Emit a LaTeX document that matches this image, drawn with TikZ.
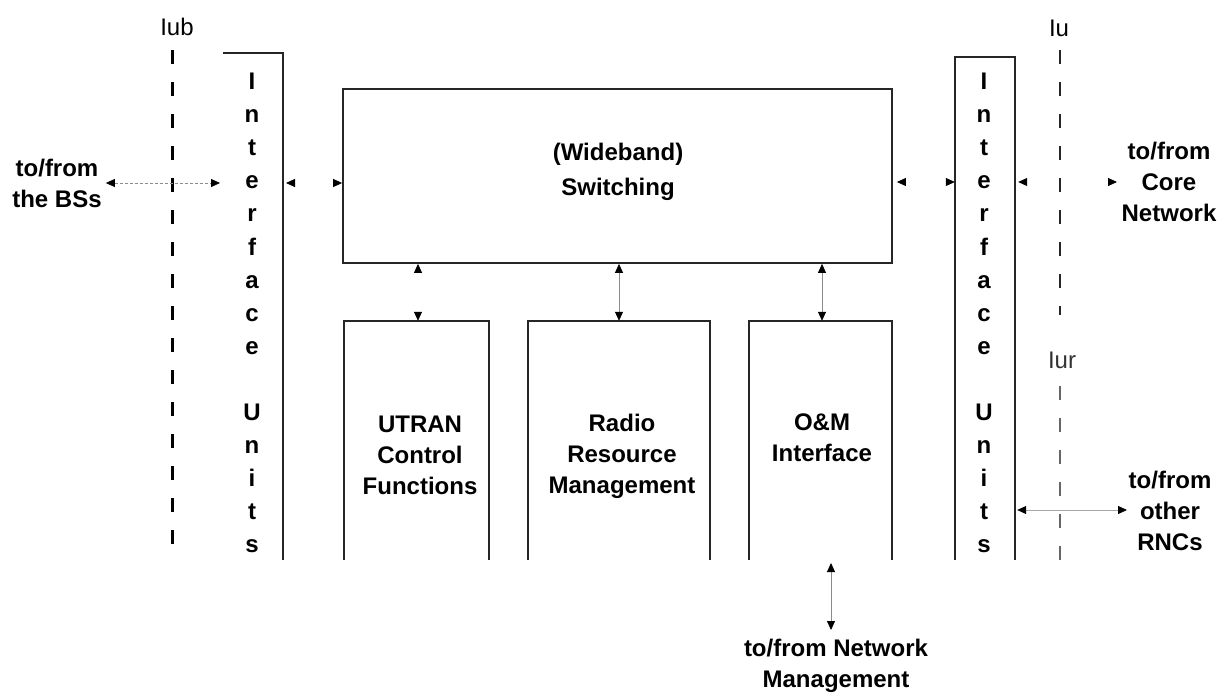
\documentclass[tikz,border=0pt]{standalone}
\usepackage{fontspec}
\setmainfont{Liberation Sans}
\usetikzlibrary{arrows.meta}
\begin{document}
\begin{tikzpicture}[x=1pt,y=-1pt,
  lbl/.style={font=\fontsize{24}{31}\selectfont\bfseries, align=center, inner sep=0pt},
  swlbl/.style={font=\fontsize{24}{35}\selectfont\bfseries, align=center, inner sep=0pt},
  iflbl/.style={font=\fontsize{24}{28}\selectfont, inner sep=0pt},
  letter/.style={font=\fontsize{24}{28}\selectfont\bfseries, anchor=base, inner sep=0pt},
  boxline/.style={line width=1.8pt, draw=black!85},
  ifline/.style={line width=3pt, dash pattern=on 14pt off 18pt},
  ghostbox/.style={draw=none, inner sep=0pt},
  dbl/.style={{Triangle[length=9pt,width=8pt,color=black,fill=black]}-{Triangle[length=9pt,width=8pt,color=black,fill=black]}, line width=0.8pt, draw=black!45},
  ghost/.style={dbl, draw=white},
  dotl/.style={dbl, draw=black!45, dash pattern=on 3pt off 2pt}
]
\useasboundingbox (0,0) rectangle (1224,695);

% switching
\node[draw, boxline, minimum width=549pt, minimum height=174pt, inner sep=0pt] (sw) at (617.5,176) {};
\node[swlbl] (swt) at (618,172) {(Wideband)\\Switching};

% right interface units
\node[ghostbox, minimum width=60pt, minimum height=503pt] (rif) at (985,308.5) {};

% right interface <-> core (arrowheads only, drawn before the dashed line)
\node[lbl] (core) at (1169,182) {to/from\\Core\\Network};
\coordinate (coretip) at (1117,182);
\draw[ghost] (rif.east |- 0,182) ++(3,0) -- (coretip);

% interface lines
\node[iflbl] (iub) at (177,27) {Iub};
\coordinate (iubtop) at (172,50);
\coordinate (iubbot) at (172,553);
\draw[ifline] (iubtop) -- (iubbot);

\node[iflbl] (iu) at (1059,28) {Iu};
\coordinate (iutop) at (1060,50);
\coordinate (iubot2) at (1060,315);
\draw[ifline, line width=2.6pt, draw=black!85] (iutop) -- (iubot2);

\node[iflbl, text=black!80] (iur) at (1062,360) {Iur};
\coordinate (iurtop) at (1060,386);
\coordinate (iurbot) at (1060,562);
\draw[ifline, line width=2.6pt, draw=black!60] (iurtop) -- (iurbot);

% left interface units (open shape)
\coordinate (lif1) at (223,53);
\coordinate (lif2) at (283,53);
\coordinate (lif3) at (283,560);
\draw[boxline] (lif1) -- (lif2) -- (lif3);

% right interface box outline
\draw[boxline] (rif.south west) -- (rif.north west) -- (rif.north east) -- (rif.south east);

% interface letters
\foreach \k/\c in {0/I,1/n,2/t,3/e,4/r,5/f,6/a,7/c,8/e,10/U,11/n,12/i,13/t,14/s}{
  \node[letter] (L\k) at (252,{90+33*\k}) {\c};
  \node[letter] (R\k) at (984,{90+33*\k}) {\c};
}

% lower boxes (open at bottom)
\node[ghostbox, minimum width=145pt, minimum height=239pt] (utran) at (416.5,440.5) {};
\node[ghostbox, minimum width=182pt, minimum height=239pt] (rrm) at (619,440.5) {};
\node[ghostbox, minimum width=143pt, minimum height=239pt] (om) at (820.5,440.5) {};
\foreach \b in {utran,rrm,om}{
  \draw[boxline] (\b.south west) -- (\b.north west) -- (\b.north east) -- (\b.south east);
}
\node[lbl] (utrant) at (420,455) {UTRAN\\Control\\Functions};
\node[lbl] (rrmt) at (622,456) {Radio\\Resource\\Management};
\node[lbl] (omt) at (822,438) {O\&M\\Interface};

% vertical arrows switching <-> lower boxes
\draw[ghost] (sw.south -| 418,0) -- (utran.north -| 418,0);
\draw[dbl] (sw.south -| 619,0) -- (rrm.north -| 619,0);
\draw[dbl] (sw.south -| 822,0) -- (om.north -| 822,0);

% network management
\coordinate (nmtop) at (831,563);
\coordinate (nmbot) at (831,630);
\node[lbl] (nm) at (836,666) {to/from Network\\Management};
\draw[dbl] (nmtop) -- (nmbot);

% BSs
\node[lbl] (bs) at (57,183) {to/from\\the BSs};
\coordinate (bsr) at (220,183);
\draw[dotl] (bs.east |- bsr) ++(4,0) coordinate (bsl) (bsl) -- (bsr);

% left interface <-> switching
\draw[ghost] (lif3 |- 0,183) ++(3,0) -- (sw.west |- 0,183);

% switching <-> right interface
\draw[ghost] (sw.east |- 0,182) ++(4,0) -- (rif.west |- 0,182);

% right interface <-> other RNCs
\node[lbl] (rnc) at (1170,511) {to/from\\other\\RNCs};
\coordinate (rnctip) at (1127,510);
\draw[dbl, draw=black!35] (rif.east |- 0,510) ++(2,0) -- (rnctip);
\end{tikzpicture}
\end{document}
